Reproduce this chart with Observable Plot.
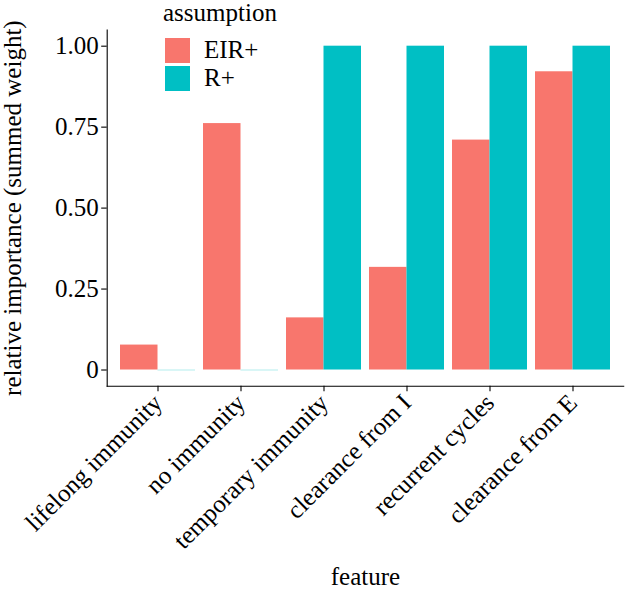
<!DOCTYPE html>
<html><head><meta charset="utf-8">
<script src="https://cdn.jsdelivr.net/npm/d3@7"></script>
<script src="https://cdn.jsdelivr.net/npm/@observablehq/plot@0.6"></script>
<style>
body{margin:0;background:#fff;}
#wrap{position:relative;width:625px;height:594px;font-family:'Liberation Serif','DejaVu Serif',serif;color:#000;}
#wrap svg{position:absolute;left:0;top:0;}
#wrap svg text{font-family:'Liberation Serif','DejaVu Serif',serif !important;}
.lg{position:absolute;font-size:25px;line-height:25px;white-space:nowrap;}
.sw{position:absolute;width:25.5px;height:25px;}
</style></head><body><div id="wrap"></div>
<script>
const features = ["lifelong immunity","no immunity","temporary immunity","clearance from I","recurrent cycles","clearance from E"];
const assumptions = ["EIR+","R+"];
const eirValues = [0.077,0.761,0.161,0.317,0.710,0.921];
const rValues = [0,0,1,1,1,1];
const colors = ["#F8766D","#00BFC4"];
const yTicks = [0,0.25,0.5,0.75,1];
const yTickLabels = ["0","0.25","0.50","0.75","1.00"];

const eirRows = features.map((f,i)=>({feature:f, assumption:assumptions[0], value:eirValues[i]}));
const rRows = features.map((f,i)=>({feature:f, assumption:assumptions[1], value:rValues[i]}));
const half = 37.5;
const font = "'Liberation Serif','DejaVu Serif',serif";

const plot = Plot.plot({
  width:625, height:594,
  marginTop:29.5, marginBottom:208.3, marginLeft:106.7, marginRight:1.8,
  style:{fontFamily:font, fontSize:"25px", color:"#000", background:"transparent"},
  x:{type:"band", domain:features, paddingInner:0.1, paddingOuter:0.15, align:0.5},
  y:{domain:[-0.05,1.05]},
  color:{domain:assumptions, range:colors},
  marks:[
    Plot.barY(eirRows,{x:"feature", y1:0, y2:"value", fill:"assumption", insetRight:half, insetLeft:0}),
    Plot.barY(rRows,{x:"feature", y1:0, y2:"value", fill:"assumption", insetLeft:half, insetRight:0}),
    Plot.tickY(rRows.filter(d=>d.value===0),{x:"feature", y:"value", stroke:"assumption", strokeOpacity:0.3, strokeWidth:1, insetLeft:half}),
    Plot.frame({anchor:"left", stroke:"#000", strokeWidth:1.1}),
    Plot.frame({anchor:"bottom", stroke:"#000", strokeWidth:1.1}),
    Plot.axisY({ticks:yTicks, tickFormat:d=>yTickLabels[yTicks.indexOf(d)], tickSize:5.5, tickPadding:3, fontSize:25, strokeWidth:1.1,
      label:"relative importance (summed weight)", labelAnchor:"center", labelArrow:false, labelOffset:104}),
    Plot.axisX({tickRotate:-45, tickSize:5.5, tickPadding:7, fontSize:25, strokeWidth:1.1,
      label:"feature", labelAnchor:"center", labelOffset:199})
  ]
});
const wrap = document.getElementById("wrap");
wrap.appendChild(plot);

// legend (inside the plot area, top-left)
const color = plot.scale("color");
const lg = d3.select(wrap);
lg.append("div").attr("class","lg").style("left","163px").style("top","0px").text("assumption");
color.domain.forEach((a,i)=>{
  lg.append("div").attr("class","sw").style("left","164.5px").style("top",(38.4+27.4*i)+"px").style("background",color.range[i]);
  lg.append("div").attr("class","lg").style("left","204px").style("top",(37.4+27.4*i)+"px").text(a);
});
</script>
</body></html>
